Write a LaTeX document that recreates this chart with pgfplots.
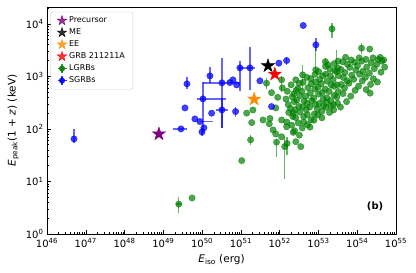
\documentclass[border=0pt]{standalone}
\usepackage{fontspec}
\setmainfont{DejaVu Sans}
\usepackage{pgfplots}
\pgfplotsset{compat=1.18}
\usepackage{pgfplotstable}

\definecolor{mplgreen}{RGB}{0,128,0}
\definecolor{mplblue}{RGB}{0,0,255}
\definecolor{mplpurple}{RGB}{128,0,128}
\definecolor{mplorange}{RGB}{255,140,0}
\definecolor{mplred}{RGB}{255,0,0}

\pgfdeclareplotmark{fstar}{%
  \pgfpathmoveto{\pgfpointpolar{90}{\pgfplotmarksize}}%
  \pgfpathlineto{\pgfpointpolar{126}{0.382\pgfplotmarksize}}%
  \pgfpathlineto{\pgfpointpolar{162}{\pgfplotmarksize}}%
  \pgfpathlineto{\pgfpointpolar{198}{0.382\pgfplotmarksize}}%
  \pgfpathlineto{\pgfpointpolar{234}{\pgfplotmarksize}}%
  \pgfpathlineto{\pgfpointpolar{270}{0.382\pgfplotmarksize}}%
  \pgfpathlineto{\pgfpointpolar{306}{\pgfplotmarksize}}%
  \pgfpathlineto{\pgfpointpolar{342}{0.382\pgfplotmarksize}}%
  \pgfpathlineto{\pgfpointpolar{18}{\pgfplotmarksize}}%
  \pgfpathlineto{\pgfpointpolar{54}{0.382\pgfplotmarksize}}%
  \pgfpathclose
  \pgfusepathqfillstroke
}

\xdef\minorx{2e46}
\foreach \m in {3,...,9}{\xdef\minorx{\minorx,\m e46}}
\foreach \e in {47,...,54}{\foreach \m in {2,...,9}{\xdef\minorx{\minorx,\m e\e}}}
\xdef\minory{2}
\foreach \m in {3,...,9}{\xdef\minory{\minory,\m}}
\foreach \e in {1,...,3}{\foreach \m in {2,...,9}{\xdef\minory{\minory,\m e\e}}}
\xdef\minory{\minory,2e4}

% LGRBs without error bars: Eiso (erg), Epeak(1+z) (keV)
\pgfplotstableread{
x y
1.41e51 200
1.90e51 132
2.04e51 229
3.72e51 148
6.17e51 490
1.17e52 603
1.12e52 148
6.76e51 95.5
1.12e52 70.8
1.51e52 110
2.24e52 200
2.75e52 355
5.62e51 158
5.40e51 125
7.94e51 251
8.91e51 398
1.05e51 24.9
5.5e49 4.85
7.9e51 80
2.6e52 57
3.5e52 46
2.1e54 3300
1.75e53 1660
2.15e54 479
1.52e52 135
1.66e52 290
1.57e52 520
1.71e52 205
1.45e52 370
2.03e52 118
1.90e52 245
2.12e52 410
1.97e52 690
2.18e52 172
2.24e52 86
2.42e52 92
2.57e52 165
2.38e52 330
2.66e52 540
2.49e52 232
2.60e52 860
2.33e52 465
3.02e52 130
3.28e52 210
3.12e52 268
3.35e52 430
3.18e52 735
3.22e52 76
2.95e52 585
3.82e52 104
4.15e52 172
3.92e52 262
4.25e52 340
3.75e52 520
4.02e52 770
4.18e52 135
5.25e52 120
4.85e52 232
5.12e52 305
4.75e52 415
5.35e52 610
5.0e52 960
5.18e52 186
6.45e52 150
5.95e52 262
6.7e52 345
6.15e52 480
6.55e52 725
6.05e52 108
6.35e52 905
7.85e52 192
8.3e52 290
7.5e52 385
8.05e52 575
8.4e52 780
7.65e52 146
8.15e52 1090
9.55e52 184
1.04e53 305
1.0e53 460
9.7e52 618
1.07e53 870
9.4e52 240
1.01e53 1230
1.21e53 215
1.31e53 368
1.26e53 490
1.18e53 725
1.29e53 1020
1.34e53 275
1.23e53 163
1.56e53 258
1.64e53 390
1.49e53 575
1.67e53 810
1.55e53 1100
1.61e53 322
1.52e53 1550
1.93e53 206
2.07e53 345
1.88e53 515
2.12e53 690
2.02e53 1030
1.96e53 1380
2.1e53 272
2.43e53 290
2.57e53 436
2.5e53 650
2.38e53 870
2.63e53 1290
2.47e53 230
2.54e53 1740
3.1e53 308
3.22e53 515
3.03e53 690
3.28e53 1030
3.15e53 1450
2.98e53 405
3.2e53 1950
3.7e53 260
4.3e53 470
3.9e53 700
4.4e53 950
3.8e53 1350
4.2e53 1900
5.3e53 330
4.7e53 600
5.5e53 820
4.8e53 1180
5.6e53 1700
5.0e53 2300
6.8e53 420
6.1e53 740
7.2e53 1050
6.4e53 1480
7.0e53 2050
8.8e53 540
8.1e53 880
9.2e53 1320
8.5e53 1850
1.08e54 650
1.15e54 1100
1.02e54 1600
1.12e54 2250
1.35e54 820
1.40e54 1250
1.3e54 1950
1.7e54 560
1.62e54 960
1.75e54 1500
1.68e54 2100
2.2e54 700
2.05e54 1150
2.3e54 1800
2.6e54 900
2.75e54 1400
2.55e54 2250
3.3e54 780
3.2e54 1700
3.5e54 2100
4.1e54 1200
4.3e54 1950
3.9e54 2300
5.1e54 1500
4.8e54 2050
}\lgrb

% LGRBs with error bars (relative errors)
\pgfplotstableread{
x y exp exm eyp eym
2.5e49 3.7 0.20 0.17 0.35 0.32
1.78e51 62 0 0 0.26 0.21
8.3e51 56 0 0 0.12 0.47
1.35e52 46 0 0 0.55 0.76
1.55e52 53 0 0 0.35 0.40
2.24e53 8000 0 0 0.29 0.34
1.29e54 3440 0 0 0.26 0.21
8.5e52 1330 0 0 1.63 0.11
2.95e53 1230 0 0 1.57 0.11
3.9e52 1070 0 0 0.55 0.49
1.12e52 858 0 0 0.20 0.41
4.57e51 741 0 0 0.26 0.21
1.51e53 1905 0 0 0.17 0.15
}\lgrberr

% SGRBs (relative errors)
\pgfplotstableread{
x y exp exm eyp eym
4.97e46 64.5 0 0 0.55 0.16
4.06e49 720 0 0 0.36 0.20
3.61e49 251 0 0 0 0
6.51e49 155 0 0 0 0
2.84e49 100 0.43 0.38 0 0
9.9e49 87.7 0 0 0.19 0.16
1.11e50 105 0 0 0 0
1.05e50 373 2.92 0.30 1.11 0.78
1.59e50 1023 0 0 0.48 0.26
3.24e50 752 1.91 0.68 1.99 0.86
5.2e50 762 0 0 0 0
7.74e50 689 0 0 0 0
9.42e50 1452 0 0 0.36 0.64
1.71e51 1452 0.35 0.51 1.51 0.62
3.09e51 821 0 0 0 0
3.24e50 230 0.43 0.30 0.69 0.55
1.76e50 199 0 0 0 0
7.29e50 214 0 0 0.24 0.20
8.77e49 138 1.12 0 0 0
6.18e51 266 0 0 0 0
4.04e52 9290 0 0 0 0
8.57e52 3980 0 0 0.34 0.25
1.51e52 2000 0 0 0.19 0.17
9.53e51 1783 0 0 0 0
6.22e50 858 0 0 0 0
}\sgrb

\begin{document}
\begin{tikzpicture}
\begin{axis}[
  scale only axis,
  width=349pt, height=227pt,
  xmode=log, ymode=log,
  xmin=1e46, xmax=1e55, ymin=1, ymax=2.09e4,
  xtick={1e46,1e47,1e48,1e49,1e50,1e51,1e52,1e53,1e54,1e55},
  xticklabels={10\textsuperscript{46},10\textsuperscript{47},10\textsuperscript{48},10\textsuperscript{49},10\textsuperscript{50},10\textsuperscript{51},10\textsuperscript{52},10\textsuperscript{53},10\textsuperscript{54},10\textsuperscript{55}},
  ytick={1,10,100,1000,10000},
  yticklabels={10\textsuperscript{0},10\textsuperscript{1},10\textsuperscript{2},10\textsuperscript{3},10\textsuperscript{4}},
  minor xtick/.expanded={\minorx},
  minor ytick/.expanded={\minory},
  xtick pos=left, ytick pos=left,
  tick align=inside,
  major tick length=4pt, minor tick length=2.3pt,
  tick style={black, line width=0.6pt},
  axis line style={line width=0.8pt},
  ticklabel style={font=\fontsize{10}{12}\selectfont},
  xticklabel style={yshift=-1pt},
  label style={font=\fontsize{10.5}{12}\selectfont},
  xlabel={\textit{E}\textsubscript{iso} (erg)},
  ylabel={\textit{E}\textsubscript{peak}(1 + \textit{z}) (keV)},
  legend style={at={(0.0106,0.979)}, anchor=north west, draw=black!20, rounded corners=2pt,
    fill=white, fill opacity=0.8, text opacity=1, font=\fontsize{8}{9}\selectfont,
    row sep=0.6pt, inner xsep=6pt, inner ysep=3pt,
    /tikz/every even column/.append style={column sep=10pt}},
  legend cell align=left,
]
% LGRBs
\addplot[forget plot, only marks, mark=*, mark size=3.2pt, color=mplgreen,
  mark options={fill opacity=0.7, draw opacity=0.7},
  error bars/.cd, x dir=both, x explicit relative, y dir=both, y explicit relative,
  error bar style={line width=1.4pt, color=mplgreen, opacity=0.6}, error mark=none]
  table[x=x, y=y, x error plus=exp, x error minus=exm, y error plus=eyp, y error minus=eym] {\lgrberr};
\addplot[forget plot, only marks, mark=*, mark size=3.2pt, color=mplgreen,
  mark options={fill opacity=0.7, draw opacity=0.7}]
  table[x=x, y=y] {\lgrb};
% SGRBs
\addplot[forget plot, only marks, mark=*, mark size=3.2pt, color=mplblue,
  mark options={fill opacity=0.75, draw opacity=0.75},
  error bars/.cd, x dir=both, x explicit relative, y dir=both, y explicit relative,
  error bar style={line width=1.4pt, color=mplblue, opacity=0.6}, error mark=none]
  table[x=x, y=y, x error plus=exp, x error minus=exm, y error plus=eyp, y error minus=eym] {\sgrb};
% Stars
\addplot[forget plot, only marks, mark=fstar, mark size=7pt, color=mplpurple] coordinates {(7.7e48,80)};
\addplot[forget plot, only marks, mark=fstar, mark size=7pt, color=mplorange] coordinates {(2.2e51,368)};
\addplot[forget plot, only marks, mark=fstar, mark size=7pt, color=black] coordinates {(5.0e51,1585)};
\addplot[forget plot, only marks, mark=fstar, mark size=7pt, color=mplred] coordinates {(7.5e51,1100)};

\addlegendimage{only marks, mark=fstar, mark size=5pt, color=mplpurple}
\addlegendentry{Precursor}
\addlegendimage{only marks, mark=fstar, mark size=5pt, color=black}
\addlegendentry{ME}
\addlegendimage{only marks, mark=fstar, mark size=5pt, color=mplorange}
\addlegendentry{EE}
\addlegendimage{only marks, mark=fstar, mark size=5pt, color=mplred}
\addlegendentry{GRB 211211A}
\addlegendimage{legend image code/.code={
  \draw[mplgreen, line width=1.2pt, opacity=0.8] (0.3cm,-4.5pt) -- (0.3cm,4.5pt) (0.3cm-4.5pt,0pt) -- (0.3cm+4.5pt,0pt);
  \fill[mplgreen, opacity=0.85] (0.3cm,0pt) circle (2.8pt);}}
\addlegendentry{LGRBs}
\addlegendimage{legend image code/.code={
  \draw[mplblue, line width=1.2pt, opacity=0.8] (0.3cm,-4.5pt) -- (0.3cm,4.5pt) (0.3cm-4.5pt,0pt) -- (0.3cm+4.5pt,0pt);
  \fill[mplblue, opacity=0.85] (0.3cm,0pt) circle (2.8pt);}}
\addlegendentry{SGRBs}

\node[font=\bfseries\fontsize{10}{12}\selectfont] at (rel axis cs:0.94,0.123) {(b)};
\end{axis}
\path (current axis.south west) ++(-47pt,-39pt) rectangle ++(416pt,273pt);
\end{tikzpicture}
\end{document}
